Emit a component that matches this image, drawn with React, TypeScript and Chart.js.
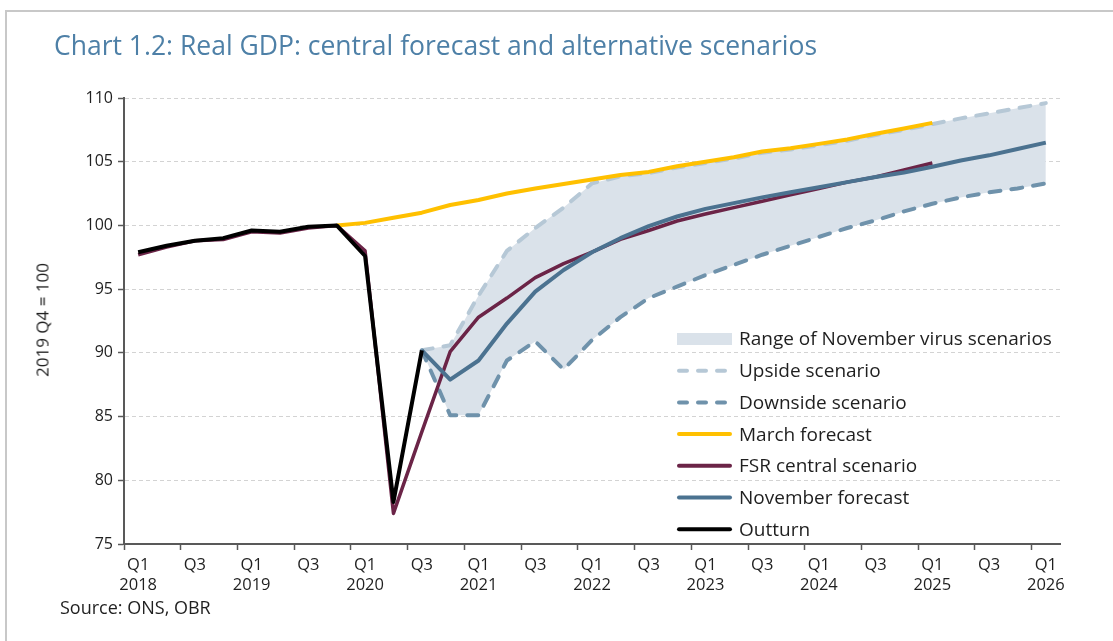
import React, { useEffect, useRef } from 'react';
import { Chart, registerables } from 'chart.js';

Chart.register(...registerables);

const quarters = [
  '2018 Q1', '2018 Q2', '2018 Q3', '2018 Q4',
  '2019 Q1', '2019 Q2', '2019 Q3', '2019 Q4',
  '2020 Q1', '2020 Q2', '2020 Q3', '2020 Q4',
  '2021 Q1', '2021 Q2', '2021 Q3', '2021 Q4',
  '2022 Q1', '2022 Q2', '2022 Q3', '2022 Q4',
  '2023 Q1', '2023 Q2', '2023 Q3', '2023 Q4',
  '2024 Q1', '2024 Q2', '2024 Q3', '2024 Q4',
  '2025 Q1', '2025 Q2', '2025 Q3', '2025 Q4',
  '2026 Q1',
];

const outturn = [
  97.9, 98.4, 98.8, 99.0, 99.6, 99.5, 99.9, 100.0, 97.6, 78.3, 90.2,
  null, null, null, null, null, null, null, null, null, null, null,
  null, null, null, null, null, null, null, null, null, null, null,
];

const fsrCentral = [
  97.7, 98.3, 98.8, 98.9, 99.5, 99.4, 99.8, 100.0, 98.0, 77.4, 83.8,
  90.1, 92.8, 94.3, 95.9, 97.0, 97.9, 98.9, 99.6, 100.35, 100.9, 101.4,
  101.9, 102.4, 102.9, 103.4, 103.8, 104.35, 104.9, null, null, null, null,
];

const novemberForecast = [
  null, null, null, null, null, null, null, null, null, null, 90.2,
  87.9, 89.4, 92.3, 94.8, 96.5, 97.9, 99.0, 99.95, 100.7, 101.3, 101.75,
  102.2, 102.6, 103.0, 103.4, 103.8, 104.15, 104.6, 105.1, 105.5, 106.0, 106.5,
];

const marchForecast = [
  null, null, null, null, null, null, null, 100.0, 100.2, 100.6, 101.0,
  101.6, 102.0, 102.5, 102.9, 103.25, 103.6, 103.95, 104.2, 104.65, 105.0, 105.35,
  105.8, 106.05, 106.4, 106.75, 107.2, 107.6, 108.05, null, null, null, null,
];

const downside = [
  null, null, null, null, null, null, null, null, null, null, 90.2,
  85.1, 85.1, 89.4, 90.9, 88.7, 91.0, 92.8, 94.3, 95.2, 96.1, 96.9,
  97.7, 98.4, 99.1, 99.8, 100.4, 101.1, 101.7, 102.2, 102.6, 102.9, 103.3,
];

const upside = [
  null, null, null, null, null, null, null, null, null, null, 90.2,
  90.6, 94.5, 98.0, 99.8, 101.4, 103.3, 103.85, 104.1, 104.55, 104.9, 105.25,
  105.7, 105.95, 106.3, 106.65, 107.1, 107.5, 107.95, 108.4, 108.8, 109.2, 109.6,
];

const yMin = 75;
const yMax = 110;
const yStep = 5;

const legendLabels = [
  'Range of November virus scenarios',
  'Upside scenario',
  'Downside scenario',
  'March forecast',
  'FSR central scenario',
  'November forecast',
  'Outturn',
];

const COLORS = {
  range: '#dae2ea',
  upside: '#b6c8d6',
  downside: '#6f92ab',
  march: '#ffc000',
  fsr: '#6b2447',
  november: '#4b7290',
  outturn: '#000000',
  grid: '#d3d3d3',
  axis: '#595959',
  text: '#1f1f1f',
  title: '#4e80a7',
};

const FONT = '"Open Sans", Lato, sans-serif';

const legendPlugin = {
  id: 'customLegend',
  afterDraw(chart: any) {
    const { ctx, chartArea } = chart;
    const x0 = chartArea.right - 383;
    const x1 = x0 + 55;
    const tx = x0 + 62;
    const y0 = chartArea.top + 241;
    const step = 31.7;
    const styles = [
      { kind: 'rect', color: COLORS.range },
      { kind: 'dash', color: COLORS.upside },
      { kind: 'dash', color: COLORS.downside },
      { kind: 'line', color: COLORS.march },
      { kind: 'line', color: COLORS.fsr },
      { kind: 'line', color: COLORS.november },
      { kind: 'line', color: COLORS.outturn },
    ];
    ctx.save();
    legendLabels.forEach((label, i) => {
      const y = y0 + i * step;
      const s = styles[i];
      if (s.kind === 'rect') {
        ctx.fillStyle = s.color;
        ctx.fillRect(x0, y - 6, x1 - x0, 12);
      } else {
        ctx.beginPath();
        ctx.strokeStyle = s.color;
        ctx.lineWidth = 4;
        ctx.lineCap = 'round';
        ctx.setLineDash(s.kind === 'dash' ? [8, 11] : []);
        ctx.moveTo(x0 + 2, y);
        ctx.lineTo(x1 - 2, y);
        ctx.stroke();
        ctx.setLineDash([]);
      }
      ctx.fillStyle = COLORS.text;
      ctx.font = `19px ${FONT}`;
      ctx.textBaseline = 'middle';
      ctx.textAlign = 'left';
      ctx.fillText(label, tx, y + 1);
    });
    ctx.restore();
  },
};

export default function App() {
  const canvasRef = useRef<HTMLCanvasElement | null>(null);

  useEffect(() => {
    document.body.style.margin = '0';
    const canvas = canvasRef.current;
    if (!canvas) return;
    const lineBase = {
      pointRadius: 0,
      pointHoverRadius: 0,
      tension: 0,
      spanGaps: false,
      borderJoinStyle: 'round' as const,
    };
    const chart = new Chart(canvas, {
      type: 'line',
      data: {
        labels: quarters,
        datasets: [
          { ...lineBase, label: legendLabels[6], data: outturn, borderColor: COLORS.outturn, borderWidth: 4, fill: false },
          { ...lineBase, label: legendLabels[5], data: novemberForecast, borderColor: COLORS.november, borderWidth: 4, fill: false },
          { ...lineBase, label: legendLabels[4], data: fsrCentral, borderColor: COLORS.fsr, borderWidth: 3.5, fill: false },
          { ...lineBase, label: legendLabels[3], data: marchForecast, borderColor: COLORS.march, borderWidth: 4, fill: false },
          { ...lineBase, label: legendLabels[2], data: downside, borderColor: COLORS.downside, borderWidth: 4, borderDash: [11, 11], borderCapStyle: 'round', fill: false },
          { ...lineBase, label: legendLabels[1], data: upside, borderColor: COLORS.upside, borderWidth: 4, borderDash: [11, 11], borderCapStyle: 'round', fill: '-1', backgroundColor: COLORS.range },
        ] as any,
      },
      options: {
        responsive: false,
        animation: false,
        events: [],
        layout: { padding: { left: 0, right: 53, top: 98, bottom: 37 } },
        plugins: {
          legend: { display: false },
          tooltip: { enabled: false },
          title: { display: false },
          filler: { propagate: false },
        },
        scales: {
          x: {
            type: 'category',
            offset: true,
            grid: {
              offset: true,
              drawOnChartArea: false,
              drawTicks: true,
              tickLength: 6,
              tickWidth: 1.5,
              tickColor: (c: any) => (c.index % 2 === 0 ? COLORS.axis : 'rgba(0,0,0,0)'),
            },
            border: { display: true, color: COLORS.axis, width: 2 },
            ticks: {
              autoSkip: false,
              maxRotation: 0,
              minRotation: 0,
              padding: 6,
              color: COLORS.text,
              font: { family: FONT, size: 16.5, lineHeight: 1.17 },
              callback: (_v: any, index: number) => {
                const [year, q] = quarters[index].split(' ');
                if (q === 'Q1') return ['Q1', year];
                if (q === 'Q3') return 'Q3';
                return '';
              },
            },
            afterFit: (s: any) => { s.height = 60; },
          },
          y: {
            min: yMin,
            max: yMax,
            grid: {
              color: COLORS.grid,
              lineWidth: 1,
              drawTicks: true,
              tickLength: 6,
              tickColor: COLORS.axis,
              tickWidth: 1.5,
            },
            border: { display: true, color: COLORS.axis, width: 2, dash: [4, 3] },
            ticks: {
              stepSize: yStep,
              padding: 5,
              color: COLORS.text,
              font: { family: FONT, size: 16 },
            },
            afterFit: (s: any) => { s.width = 124; },
          },
        },
      },
      plugins: [legendPlugin],
    });
    return () => chart.destroy();
  }, []);

  return (
    <div style={{ position: 'relative', width: 1113, height: 641, overflow: 'hidden', background: '#fff' }}>
      <div style={{ position: 'absolute', left: 5, top: 10, width: 1300, height: 900, border: '2px solid #c8c8c8', boxSizing: 'border-box' }} />
      <canvas ref={canvasRef} width={1113} height={641} style={{ position: 'absolute', left: 0, top: 0, width: 1113, height: 641 }} />
      <div style={{ position: 'absolute', left: 54, top: 28, fontFamily: FONT, fontSize: 26.5, color: COLORS.title, whiteSpace: 'nowrap', lineHeight: '34px' }}>
        Chart 1.2: Real GDP: central forecast and alternative scenarios
      </div>
      <div style={{ position: 'absolute', left: 42, top: 320, width: 0, height: 0 }}>
        <div style={{ position: 'absolute', transform: 'translate(-50%, -50%) rotate(-90deg)', fontFamily: FONT, fontSize: 17, color: COLORS.text, whiteSpace: 'nowrap', left: 0, top: 0 }}>
          2019 Q4 = 100
        </div>
      </div>
      <div style={{ position: 'absolute', left: 60, top: 595, fontFamily: FONT, fontSize: 18, color: COLORS.text, whiteSpace: 'nowrap', lineHeight: '24px' }}>
        Source: ONS, OBR
      </div>
    </div>
  );
}
